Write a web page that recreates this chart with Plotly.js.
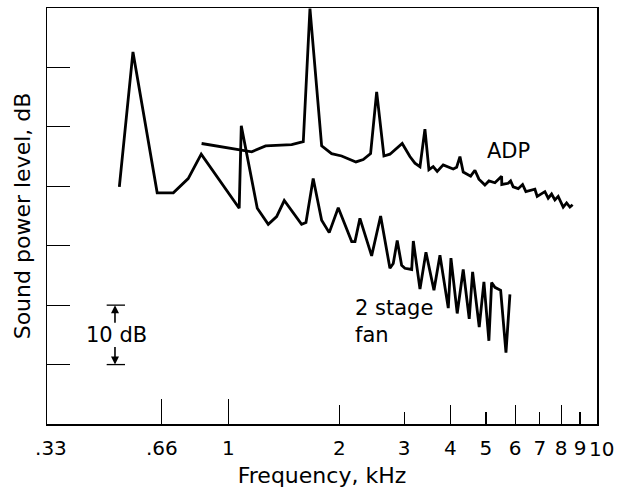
<!DOCTYPE html>
<html>
<head>
<meta charset="utf-8">
<script src="https://cdn.plot.ly/plotly-3.0.1.min.js"></script>
<style>html,body{margin:0;padding:0;background:#fff;}#chart{width:621px;height:497px;}</style>
</head>
<body>
<div id="chart"></div>
<script>
// Frequency (kHz) and sound power level (dB, relative)
var fanFreq = [0.506,0.551,0.641,0.709,0.778,0.844,1.070,1.084,1.198,1.283,1.352,1.418,1.580,1.624,1.699,1.791,1.878,1.987,2.161,2.206,2.275,2.448,2.589,2.744,2.802,2.872,2.952,3.013,3.144,3.176,3.311,3.437,3.613,3.751,3.951,4.018,4.178,4.338,4.504,4.600,4.794,4.937,5.093,5.180,5.288,5.481,5.666,5.808];
var fanLevel = [39.9,62.6,38.9,38.9,41.3,45.4,36.3,50.2,36.3,33.6,34.9,37.6,33.6,33.9,41.3,34.3,32.2,36.4,30.7,30.7,34.6,28.3,35.0,26.2,27.0,30.9,26.7,26.2,26.0,30.8,22.7,28.9,22.5,28.4,19.5,27.9,18.6,26.0,17.7,25.6,16.3,23.9,14.0,23.8,23.0,22.5,12.0,21.8];

var adpFreq = [0.846,1.075,1.157,1.262,1.485,1.597,1.665,1.791,1.906,2.029,2.219,2.323,2.432,2.526,2.643,2.744,2.963,3.109,3.208,3.311,3.415,3.501,3.596,3.687,3.828,4.075,4.163,4.250,4.338,4.544,4.667,4.785,4.967,5.093,5.288,5.515,5.520,5.746,5.833,5.928,6.116,6.286,6.417,6.789,6.887,7.226,7.377,7.535,7.693,7.852,8.102,8.276,8.448,8.593];
var adpLevel = [47.2,46.1,45.8,46.8,47.0,47.5,69.9,46.8,45.5,45.1,44.1,44.5,45.5,55.9,45.1,45.4,47.2,45.0,43.9,43.3,49.6,42.8,43.3,42.5,43.6,42.9,43.2,45.0,42.4,41.7,42.7,41.2,40.2,40.9,40.6,41.7,40.3,40.5,40.9,39.9,39.6,40.3,39.1,39.5,38.3,39.1,38.0,38.7,37.7,38.3,36.5,37.2,36.5,36.9];

var xTickVals = [0.33,0.66,1,2,3,4,5,6,7,8,9];
var xTickText = ['.33','.66','1','2','3','4','5','6','7','8','9'];
var xEndLabel = '10';
var xLongTicks = [0.66,1];
var xMidTicks = [2,4,6,8];
var xShortTicks = [3,5,7,9];
var yTickVals = [10,20,30,40,50,60];

var FONT = 'DejaVu Sans, Arial, sans-serif';
var xRange = [Math.log10(0.322), 1.0003];

var traces = [
  {x: adpFreq, y: adpLevel, type: 'scatter', mode: 'lines', line: {color: '#000', width: 2.8}, hoverinfo: 'skip', name: 'ADP'},
  {x: fanFreq, y: fanLevel, type: 'scatter', mode: 'lines', line: {color: '#000', width: 2.8}, hoverinfo: 'skip', name: '2 stage fan'},
  // empty trace so the overlaid tick-mark axis is drawn
  {x: [], y: [], type: 'scatter', mode: 'lines', xaxis: 'x2', yaxis: 'y', hoverinfo: 'skip', showlegend: false}
];

var layout = {
  width: 621, height: 497,
  margin: {l: 47, r: 24, t: 8, b: 73},
  paper_bgcolor: '#fff', plot_bgcolor: '#fff',
  showlegend: false,
  font: {family: FONT, color: '#000', size: 20},
  xaxis: {
    type: 'log', range: xRange, fixedrange: true,
    tickmode: 'array', tickvals: xTickVals, ticktext: xTickText, tickangle: 0,
    ticks: '', showgrid: false, zeroline: false,
    showline: true, mirror: true, linecolor: '#000', linewidth: 1.5,
    tickfont: {family: FONT, size: 20, color: '#000'},
    ticklabelstandoff: 5,
    minor: {tickmode: 'array', tickvals: xShortTicks, ticks: 'inside', ticklen: 12, tickwidth: 1.2, tickcolor: '#000', showgrid: false},
    title: {text: 'Frequency, kHz', font: {family: FONT, size: 22, color: '#000'}, standoff: 9}
  },
  xaxis2: {
    type: 'log', range: xRange, overlaying: 'x', anchor: 'y', side: 'bottom', fixedrange: true,
    tickmode: 'array', tickvals: xLongTicks, ticks: 'inside', ticklen: 25, tickwidth: 1.2, tickcolor: '#000',
    showticklabels: false, showgrid: false, zeroline: false, showline: false,
    minor: {tickmode: 'array', tickvals: xMidTicks, ticks: 'inside', ticklen: 19, tickwidth: 1.2, tickcolor: '#000', showgrid: false}
  },
  yaxis: {
    range: [0, 70], fixedrange: true,
    tickmode: 'array', tickvals: yTickVals, ticks: 'inside', ticklen: 23, tickwidth: 1.2, tickcolor: '#000',
    showticklabels: false, showgrid: false, zeroline: false,
    showline: true, mirror: true, linecolor: '#000', linewidth: 1.5,
    title: {text: 'Sound power level, dB', font: {family: FONT, size: 22, color: '#000'}, standoff: 9}
  },
  shapes: [
    {type: 'line', xref: 'paper', yref: 'y', x0: 0.1085, x1: 0.1418, y0: 20, y1: 20, line: {color: '#000', width: 1.3}},
    {type: 'line', xref: 'paper', yref: 'y', x0: 0.1085, x1: 0.1418, y0: 10, y1: 10, line: {color: '#000', width: 1.3}}
  ],
  annotations: [
    {xref: 'paper', yref: 'paper', x: 1.008, y: -0.061, text: xEndLabel, showarrow: false, xanchor: 'center', yanchor: 'middle', font: {family: FONT, size: 20, color: '#000'}},
    {xref: 'paper', yref: 'y', x: 0.1236, y: 20, text: '', showarrow: true, arrowhead: 2, arrowsize: 1, arrowwidth: 1.6, arrowcolor: '#000', ax: 0, ay: 19},
    {xref: 'paper', yref: 'y', x: 0.1236, y: 10, text: '', showarrow: true, arrowhead: 2, arrowsize: 1, arrowwidth: 1.6, arrowcolor: '#000', ax: 0, ay: -19},
    {xref: 'paper', yref: 'y', x: 0.1264, y: 15, text: '10 dB', showarrow: false, xanchor: 'center', yanchor: 'middle', font: {family: FONT, size: 21, color: '#000'}},
    {xref: 'paper', yref: 'y', x: 0.7964, y: 46.0, text: 'ADP', showarrow: false, xanchor: 'left', yanchor: 'middle', font: {family: FONT, size: 21, color: '#000'}},
    {xref: 'paper', yref: 'y', x: 0.5564, y: 17.2, text: '2 stage<br>fan', align: 'left', showarrow: false, xanchor: 'left', yanchor: 'middle', font: {family: FONT, size: 21, color: '#000'}}
  ]
};

Plotly.newPlot('chart', traces, layout, {staticPlot: true, displayModeBar: false});
</script>
</body>
</html>
